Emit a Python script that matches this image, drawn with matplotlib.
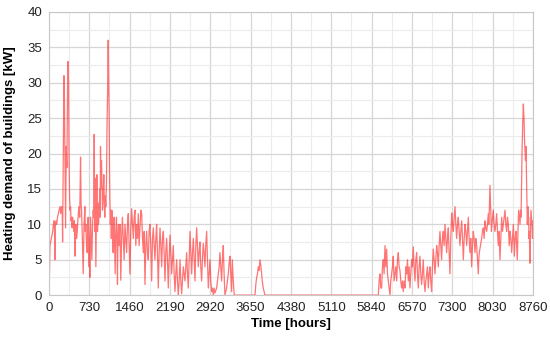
import numpy as np
import matplotlib.pyplot as plt
from matplotlib.ticker import MultipleLocator

# Début d'année (janvier -> juin), heures et demande [kW]
early_hours = [0, 8, 18, 30, 42, 55, 68, 80, 92, 100, 108, 116, 126, 140, 155, 169, 185,
               199, 214, 229, 240, 247, 260, 271, 280, 289, 301, 313, 325, 335, 343, 355,
               363, 373, 382, 391, 400, 409, 420, 430, 439, 450, 460, 470, 479, 488, 500,
               512, 527, 542, 557, 572, 581, 590, 605, 620, 635, 650, 659, 668, 680, 692,
               701, 710, 719, 728, 734, 740, 746, 752, 764, 777, 789, 801, 810, 819, 828,
               837, 843, 849, 858, 867, 873, 879, 888, 897, 909, 921, 927, 933, 942, 951,
               960, 969, 981, 993, 1002, 1011, 1020, 1029, 1041, 1053, 1062, 1072, 1081,
               1090, 1096, 1102, 1111, 1120, 1129, 1138, 1150, 1162, 1171, 1180, 1189,
               1198, 1210, 1222, 1231, 1240, 1249, 1258, 1270, 1285, 1300, 1315, 1330,
               1346, 1361, 1376, 1391, 1406, 1421, 1436, 1451, 1466, 1481, 1497, 1512,
               1527, 1542, 1557, 1572, 1587, 1602, 1617, 1632, 1648, 1663, 1678, 1693,
               1708, 1723, 1738, 1753, 1768, 1783, 1798, 1813, 1828, 1843, 1859, 1874,
               1889, 1904, 1919, 1934, 1949, 1964, 1979, 1994, 2010, 2025, 2040, 2055,
               2070, 2085, 2100, 2115, 2130, 2145, 2160, 2175, 2191, 2206, 2221, 2236,
               2251, 2266, 2281, 2296, 2311, 2326, 2341, 2356, 2372, 2387, 2402, 2417,
               2432, 2447, 2462, 2477, 2492, 2507, 2522, 2537, 2553, 2568, 2583, 2598,
               2613, 2628, 2643, 2658, 2673, 2688, 2703, 2718, 2733, 2748, 2763, 2778,
               2793, 2808, 2823, 2838, 2854, 2869, 2884, 2899, 2914, 2929, 2944, 2959,
               2974, 2989, 3004, 3035, 3050, 3065, 3080, 3095, 3110, 3125, 3140, 3155,
               3170, 3185, 3215, 3230, 3246, 3261, 3276, 3291, 3306, 3318, 3336, 3354,
               3729, 3744, 3759, 3774, 3789, 3804, 3819, 3837, 3849, 3861, 3879, 3909]
early_kw = [4.5, 2.5, 7, 7.5, 8, 8.5, 9, 10, 10.5, 9, 5, 10, 10.5, 10, 11, 11.5, 12,
            12.5, 11.5, 12.5, 12, 7.5, 20, 31, 28, 20, 9.5, 21, 18, 28, 33, 30,
            20, 14, 12, 12.5, 10.5, 11, 9.5, 11, 10, 9, 10.5, 5.5, 9, 10, 8,
            9, 11, 12.5, 11, 19.5, 13, 12, 8, 3, 10, 12.5, 9, 10, 7, 6,
            10, 11, 8, 4, 8, 2.5, 9, 11, 8, 5, 10, 12, 11, 22.7, 9,
            16.5, 10, 4, 10, 17, 12, 9, 13, 10, 12, 15, 11, 21, 15, 19,
            16, 12, 14, 17, 13, 11, 14, 12.5, 16, 25, 29, 36, 30,
            25, 18, 14, 10, 12, 8, 12, 10, 6, 10, 11, 7,
            3, 9, 11, 8, 1.5, 8, 10, 7, 10, 2.1, 8, 11,
            8, 5, 10, 8, 6, 10, 11.5, 7, 3, 9, 12.2, 10,
            8, 11, 12, 7, 10, 8, 11.5, 7, 9.5, 12, 11.5, 8,
            6, 9, 1.5, 7, 9, 6, 5, 9, 10, 7, 2, 8,
            9.5, 7, 5, 8, 10, 6, 1, 6, 9.5, 7, 4, 8,
            9, 6, 2, 6, 8, 5, 1, 5, 8.5, 6, 3, 5,
            7, 3, 0.5, 3, 5, 2, 0, 2, 5, 2, 0.2, 2,
            4, 3, 2, 4, 6, 3, 1, 5, 9, 6, 3, 6,
            8, 5, 2, 7, 9.5, 7, 4, 6, 7.5, 4, 2, 5,
            7.3, 6, 4, 7, 9, 5, 1, 3, 5, 2, 0.5, 1,
            0, 1, 0.3, 1, 2, 3, 4, 6, 4, 2, 5, 7,
            3, 0, 1, 2, 3, 4.5, 5.5, 3, 0.5, 5, 2, 0,
            0, 1.5, 2.5, 3, 4, 3.5, 5, 4, 3, 2, 1, 0]

# Fin d'année (septembre -> décembre)
late_hours = [5961, 5976, 5991, 6006, 6021, 6036, 6051, 6066, 6082, 6097, 6112, 6127,
              6142, 6157, 6172, 6187, 6202, 6217, 6232, 6247, 6263, 6278, 6293, 6308,
              6323, 6338, 6353, 6368, 6383, 6398, 6413, 6428, 6444, 6459, 6474, 6489,
              6504, 6519, 6534, 6549, 6564, 6579, 6594, 6609, 6625, 6640, 6655, 6670,
              6685, 6700, 6715, 6730, 6745, 6760, 6775, 6790, 6806, 6821, 6836, 6851,
              6866, 6881, 6896, 6911, 6926, 6941, 6956, 6971, 6987, 7002, 7017, 7032,
              7047, 7062, 7077, 7092, 7107, 7122, 7137, 7152, 7168, 7183, 7198, 7213,
              7228, 7243, 7258, 7273, 7289, 7304, 7319, 7334, 7349, 7364, 7379, 7394,
              7409, 7424, 7439, 7454, 7470, 7485, 7500, 7515, 7530, 7545, 7560, 7575,
              7590, 7605, 7620, 7635, 7650, 7665, 7680, 7695, 7711, 7726, 7741, 7756,
              7771, 7780, 7789, 7810, 7831, 7846, 7861, 7876, 7892, 7907, 7922, 7937,
              7952, 7961, 7970, 7982, 7991, 8000, 8009, 8018, 8030, 8042, 8057, 8073,
              8088, 8103, 8118, 8133, 8148, 8163, 8178, 8194, 8209, 8224, 8239, 8254,
              8269, 8284, 8299, 8314, 8330, 8345, 8360, 8375, 8390, 8405, 8414, 8423,
              8438, 8453, 8465, 8477, 8489, 8501, 8513, 8526, 8535, 8544, 8553, 8562,
              8574, 8586, 8592, 8598, 8607, 8616, 8625, 8634, 8640, 8646, 8652, 8658,
              8664, 8670, 8676, 8682, 8688, 8694, 8700, 8706, 8715, 8724, 8733, 8742,
              8751, 8760]
late_kw = [0, 2, 3, 1, 1, 4, 5, 3, 7, 4, 6.5, 3,
           2, 1, 0, 2, 3, 4, 5.5, 2, 3, 4, 2, 5,
           6, 4, 3.5, 2, 1, 2, 0.5, 2, 1, 4, 3, 5,
           2, 4, 1, 3, 5, 4, 6.8, 4, 2, 5, 6, 3,
           1, 4, 5.5, 3, 1.5, 3, 5, 2, 0.5, 2, 3, 4,
           1, 3, 4, 2, 0.5, 4, 6.5, 5, 3, 5, 7, 6,
           4, 7, 9, 7, 5, 8, 9, 7, 10, 8, 6, 8,
           9.5, 6, 3, 8, 11.6, 10, 9, 11, 12.5, 10, 8, 10,
           11, 9, 7, 9, 10.5, 8, 5, 8, 10, 9, 7, 9,
           11, 8, 6, 8, 4, 7, 9, 8, 6, 8, 7, 5,
           3, 5, 6, 7, 8, 9, 9.5, 8, 10.5, 9.5, 9, 10,
           11.5, 10, 12, 15.5, 13, 11, 9, 10, 11, 12, 10, 9,
           10, 11.5, 9, 7, 9, 5, 8, 11, 9, 10, 11, 12,
           10, 9, 11, 10, 7, 9, 8, 6, 8, 10, 8, 5.5,
           8, 9, 7, 5, 9, 12, 11, 10, 12, 11, 15, 20,
           24, 27, 26, 25, 22, 20.5, 19, 21, 18, 15, 12, 10,
           11, 12.5, 10, 11, 8, 9, 7, 4.5, 9, 12, 11, 10,
           8, 10.5]

hours = early_hours + late_hours
demand = early_kw + late_kw
xticks = np.arange(0, 8761, 730)

plt.rcParams["font.family"] = ["Liberation Sans", "DejaVu Sans"]

fig = plt.figure(figsize=(5.5, 3.4), dpi=100)
ax = fig.add_axes([0.089, 0.132, 0.88, 0.833])

ax.plot(hours, demand, color="#ff2a2a", lw=0.9, alpha=0.65)

ax.set_xlim(0, 8760)
ax.set_ylim(0, 40)
ax.set_xticks(xticks)
ax.yaxis.set_major_locator(MultipleLocator(5))
ax.xaxis.set_minor_locator(MultipleLocator(365))
ax.yaxis.set_minor_locator(MultipleLocator(2.5))
ax.grid(which="major", color="#d6d6d6", lw=0.9)
ax.grid(which="minor", color="#ececec", lw=0.8)
ax.set_axisbelow(True)
ax.tick_params(which="both", length=0, labelsize=9.5, colors="#222222", pad=5)
for s in ax.spines.values():
    s.set_color("#c8c8c8")

ax.set_xlabel("Time [hours]", fontsize=9.5, fontweight="bold", labelpad=3)
ax.set_ylabel("Heating demand of buildings [kW]", fontsize=9.5, fontweight="bold", labelpad=8)

fig.savefig("out.png", dpi=100)
